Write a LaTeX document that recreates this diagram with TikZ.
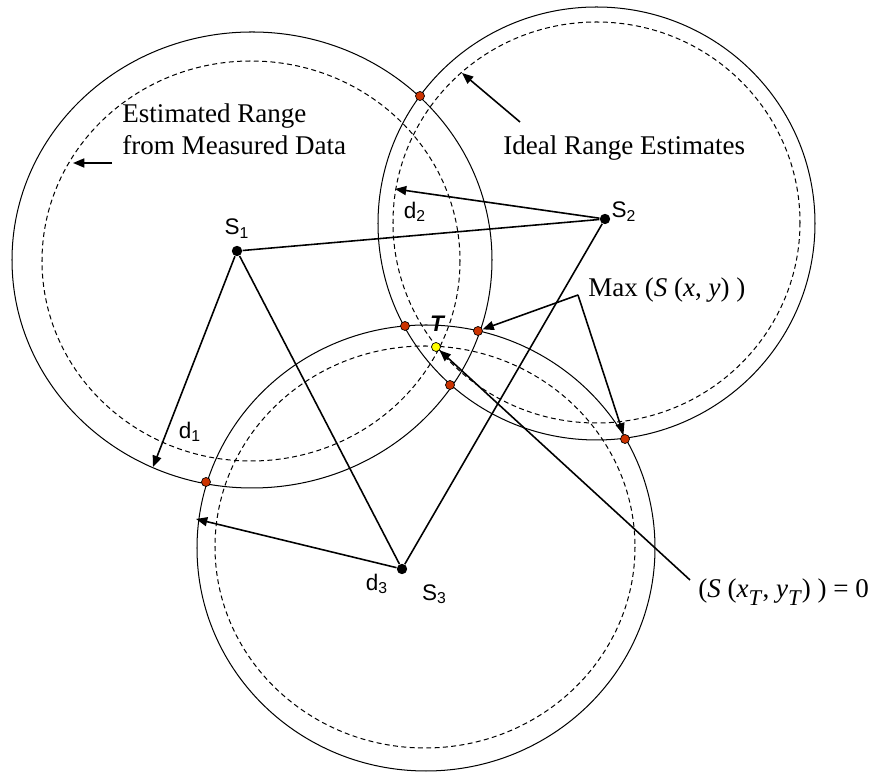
\documentclass[tikz,border=0pt]{standalone}
\usepackage{fontspec}
\setmainfont{Liberation Serif}
\setsansfont{Liberation Sans}
\usepackage{tikz}
\usetikzlibrary{arrows.meta,positioning,calc}
\definecolor{hitRed}{RGB}{204,51,0}
\definecolor{targetYellow}{RGB}{255,255,0}
\newcommand{\subT}{\raisebox{-0.28em}{\fontsize{10}{12}\selectfont\textit{T}}}
\tikzset{
    rangeSolid/.style={line width=0.45pt},
    rangeDashed/.style={line width=0.45pt, dash pattern=on 2.2pt off 1.5pt},
    sensorDot/.style={
        circle,
        fill=black,
        inner sep=0pt,
        minimum size=4.6pt
    },
    hitDot/.style={
        circle,
        draw=black,
        line width=0.3pt,
        fill=#1,
        inner sep=0pt,
        minimum size=4pt
    },
    % Lines and arrows
    linkLine/.style={line width=0.7pt},
    rangeArrow/.style={-{Triangle[length=5pt,width=4pt]}, line width=0.7pt},
    sfLabel/.style={font=\sffamily\fontsize{10}{12}\selectfont, inner sep=1pt},
    rmLabel/.style={font=\fontsize{12}{14.5}\selectfont, inner sep=0pt, align=left}
}

\begin{document}
\begin{tikzpicture}[x=0.444pt, y=-0.444pt]
\useasboundingbox (0,0) rectangle (883,775);

% Range circles
\draw[rangeSolid] (252,260) ellipse [x radius=240, y radius=228];
\draw[rangeDashed] (251,261) ellipse [x radius=209, y radius=200];
\draw[rangeSolid] (596.5,223.5) ellipse [x radius=218.5, y radius=216.5];
\draw[rangeDashed] (596.5,222.5) ellipse [x radius=203.5, y radius=200.5];
\draw[rangeSolid] (426,548) ellipse [x radius=229, y radius=223];
\draw[rangeDashed] (425,547) ellipse [x radius=210, y radius=201];

% Sensors
\node[sensorDot] (s1) at (237,251) {};
\node[sensorDot] (s2) at (605,219) {};
\node[sensorDot] (s3) at (402,569) {};
\node[sfLabel, above=2pt of s1] (s1lab) {S\textsubscript{1}};
\node[sfLabel, above right=-4pt and 0pt of s2] (s2lab) {S\textsubscript{2}};
\node[sfLabel, below right=4pt and 6pt of s3] (s3lab) {S\textsubscript{3}};

\draw[linkLine] (s1) -- (s2);
\draw[linkLine] (s1) -- (s3);
\draw[linkLine] (s2) -- (s3);

% Range arrows
\coordinate (r1) at (153,467);
\coordinate (r2) at (395,189);
\coordinate (r3) at (196,519);
\draw[rangeArrow] (s1) -- (r1);
\draw[rangeArrow] (s2) -- (r2);
\draw[rangeArrow] (s3) -- (r3);
\node[sfLabel] (d1) at (190,432) {d\textsubscript{1}};
\node[sfLabel] (d2) at (415,212) {d\textsubscript{2}};
\node[sfLabel] (d3) at (377,584) {d\textsubscript{3}};

% Intersections
\foreach \i/\x/\y in {1/420/96, 2/405/326, 3/478/331, 4/450/385, 5/625/439, 6/206/482} {
    \node[hitDot=hitRed] (h\i) at (\x,\y) {};
}
\node[hitDot=targetYellow] (t) at (436,347) {};
\node[sfLabel, font=\sffamily\bfseries\itshape\fontsize{10}{12}\selectfont] (tlab) at (437,324) {T};

% Annotations
\node[rmLabel, anchor=base west] (est) at (122,155) {Estimated Range\\from Measured Data};
\coordinate (estA) at (112,163);
\coordinate (estB) at (73,163);
\draw[rangeArrow] (estA) -- (estB);

\node[rmLabel, anchor=base west] (ideal) at (503,155) {Ideal Range Estimates};
\coordinate (idealA) at (520,122);
\coordinate (idealB) at (462,73);
\draw[rangeArrow] (idealA) -- (idealB);

\node[rmLabel, anchor=base west] (maxlab) at (588,297) {Max\ (\textit{S}\ (\textit{x},\ \textit{y})\ )};
\coordinate (maxA) at (578,295);
\draw[rangeArrow] (maxA) -- (h3);
\draw[rangeArrow] (maxA) -- (h5);

\node[rmLabel, anchor=base west] (zerolab) at (698,598) {(\textit{S}\ (\textit{x}\subT,\ \textit{y}\subT)\ )\ =\ 0};
\coordinate (zeroA) at (690,580);
\draw[rangeArrow] (zeroA) -- (t);
\end{tikzpicture}
\end{document}
